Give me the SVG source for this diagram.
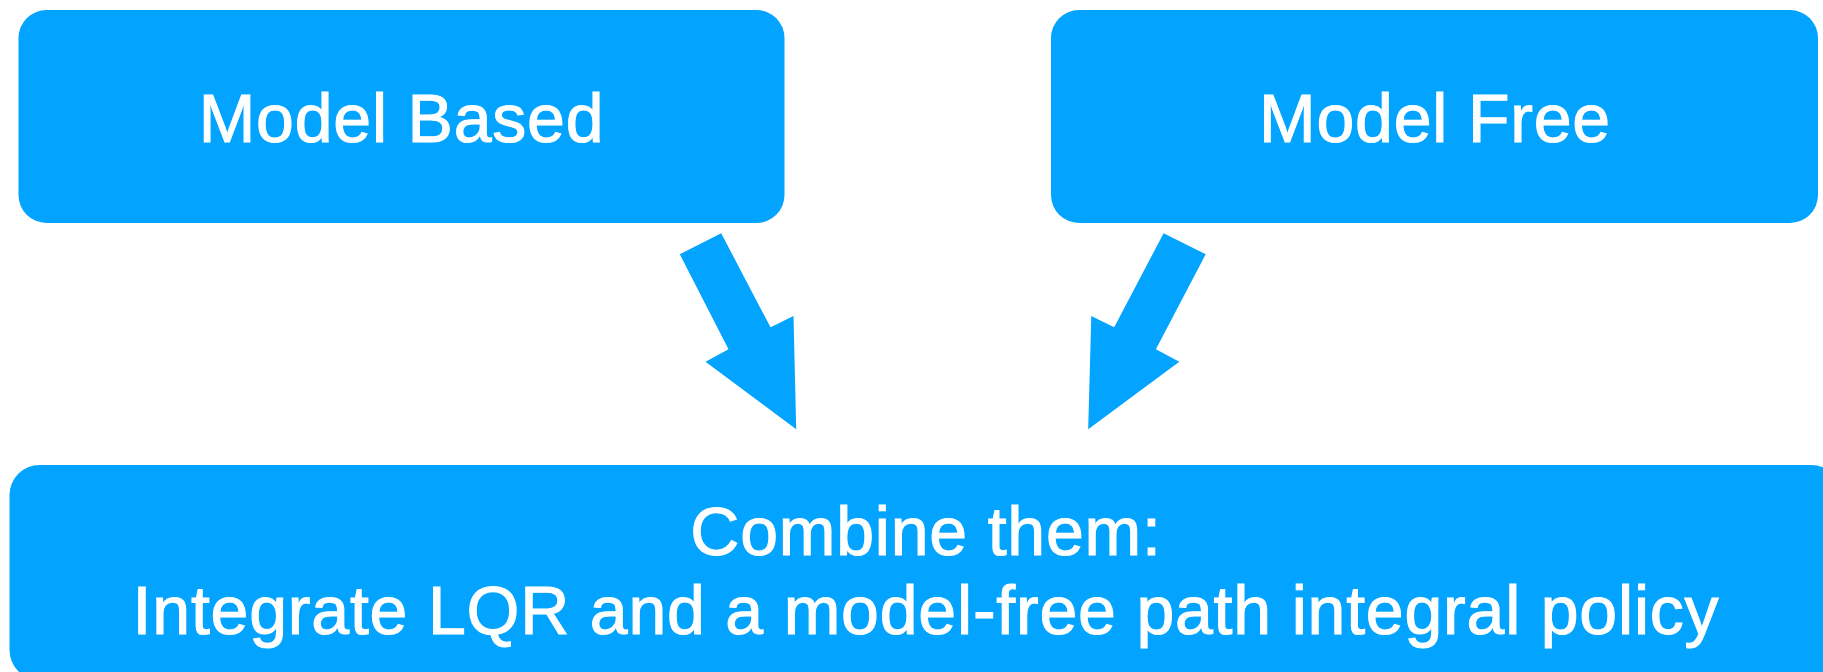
<svg xmlns="http://www.w3.org/2000/svg" width="1823" height="672" viewBox="0 0 1823 672">
  <style>
    .box { fill: #02a4ff; }
    .label { fill: #ffffff; stroke: #ffffff; stroke-width: 1.1px; font-family: "Liberation Sans", Arial, sans-serif; font-size: 68px; letter-spacing: 0.8px; text-anchor: middle; }
    .arrow { fill: #02a4ff; }
  </style>
  <rect width="1823" height="672" fill="#ffffff"/>

  <g id="model-based">
    <rect class="box" x="18.5" y="10" width="766" height="213" rx="28" ry="28"/>
    <text class="label" x="401.5" y="141.7">Model Based</text>
  </g>

  <g id="model-free">
    <rect class="box" x="1051" y="10" width="767" height="213" rx="28" ry="28"/>
    <text class="label" x="1435" y="141.7">Model Free</text>
  </g>

  <g id="combined">
    <rect class="box" x="9.5" y="465" width="1832" height="215" rx="30" ry="30"/>
    <text class="label" x="926" y="555">Combine them:</text>
    <text class="label" x="926" y="634.3">Integrate LQR and a model-free path integral policy</text>
  </g>

  <g id="connectors">
    <polygon class="arrow" points="679.8,254.3 721.2,233.3 770.5,327.3 793.5,316 796.2,429.3 705.5,361.7 728.5,349.3"/>
    <polygon class="arrow" points="1163.6,233.3 1205.7,254.3 1155.9,349.3 1179.3,361.7 1088.2,429.3 1091.3,316 1114.2,327.3"/>
  </g>
</svg>
